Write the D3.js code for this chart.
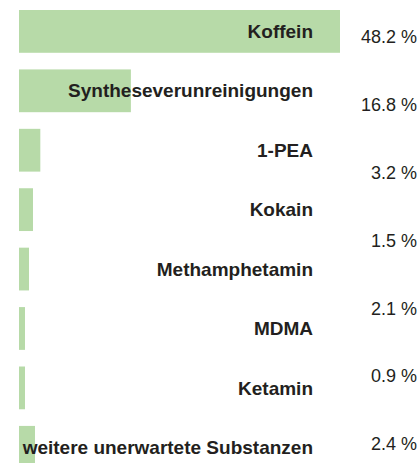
<!DOCTYPE html>
<html>
<head>
<meta charset="utf-8">
<script src="https://cdn.jsdelivr.net/npm/d3@7"></script>
<style>
  html, body { margin: 0; padding: 0; background: #fff; }
  svg { display: block; font-family: "Liberation Sans", Arial, Helvetica, sans-serif; }
</style>
</head>
<body>
<div id="chart"></div>
<script>
// substances, in drawing order
var categories = ["Koffein", "Syntheseverunreinigungen", "1-PEA", "Kokain",
  "Methamphetamin", "MDMA", "Ketamin", "weitere unerwartete Substanzen"];
// bar lengths in percent
var values = [48.2, 16.8, 3.2, 2.1, 1.5, 0.9, 0.9, 2.4];
// percent labels as printed in the right column
var valueLabels = ["48.2 %", "16.8 %", "3.2 %", "1.5 %", "2.1 %", "0.9 %", "2.4 %"];

var width = 419,
    height = 463;

var x = d3.scaleLinear()
    .domain([0, d3.max(values)])
    .range([19, 340]);

var y = d3.scaleBand()
    .domain(categories)
    .range([10, 468.7])
    .paddingInner(0.28)
    .paddingOuter(0);

// the right column is spaced on its own
var yLabel = d3.scalePoint()
    .domain(d3.range(valueLabels.length))
    .range([37, 444]);

var svg = d3.select("#chart").append("svg")
    .attr("width", width)
    .attr("height", height);

var rows = svg.selectAll(".row")
    .data(categories)
  .enter().append("g")
    .attr("class", "row");

rows.append("rect")
    .attr("x", x(0))
    .attr("y", function(d) { return y(d); })
    .attr("width", function(d, i) { return x(values[i]) - x(0); })
    .attr("height", y.bandwidth())
    .style("fill", "#b7daa8");

rows.append("text")
    .attr("x", 313)
    .attr("y", function(d) { return y(d) + y.bandwidth() / 2; })
    .attr("dy", ".35em")
    .attr("text-anchor", "end")
    .style("font-size", "19px")
    .style("font-weight", "bold")
    .style("fill", "#231f20")
    .text(function(d) { return d; });

svg.selectAll(".val")
    .data(valueLabels)
  .enter().append("text")
    .attr("class", "val")
    .attr("x", 417)
    .attr("y", function(d, i) { return yLabel(i); })
    .attr("dy", ".35em")
    .attr("text-anchor", "end")
    .style("font-size", "18px")
    .style("fill", "#231f20")
    .text(function(d) { return d; });
</script>
</body>
</html>
